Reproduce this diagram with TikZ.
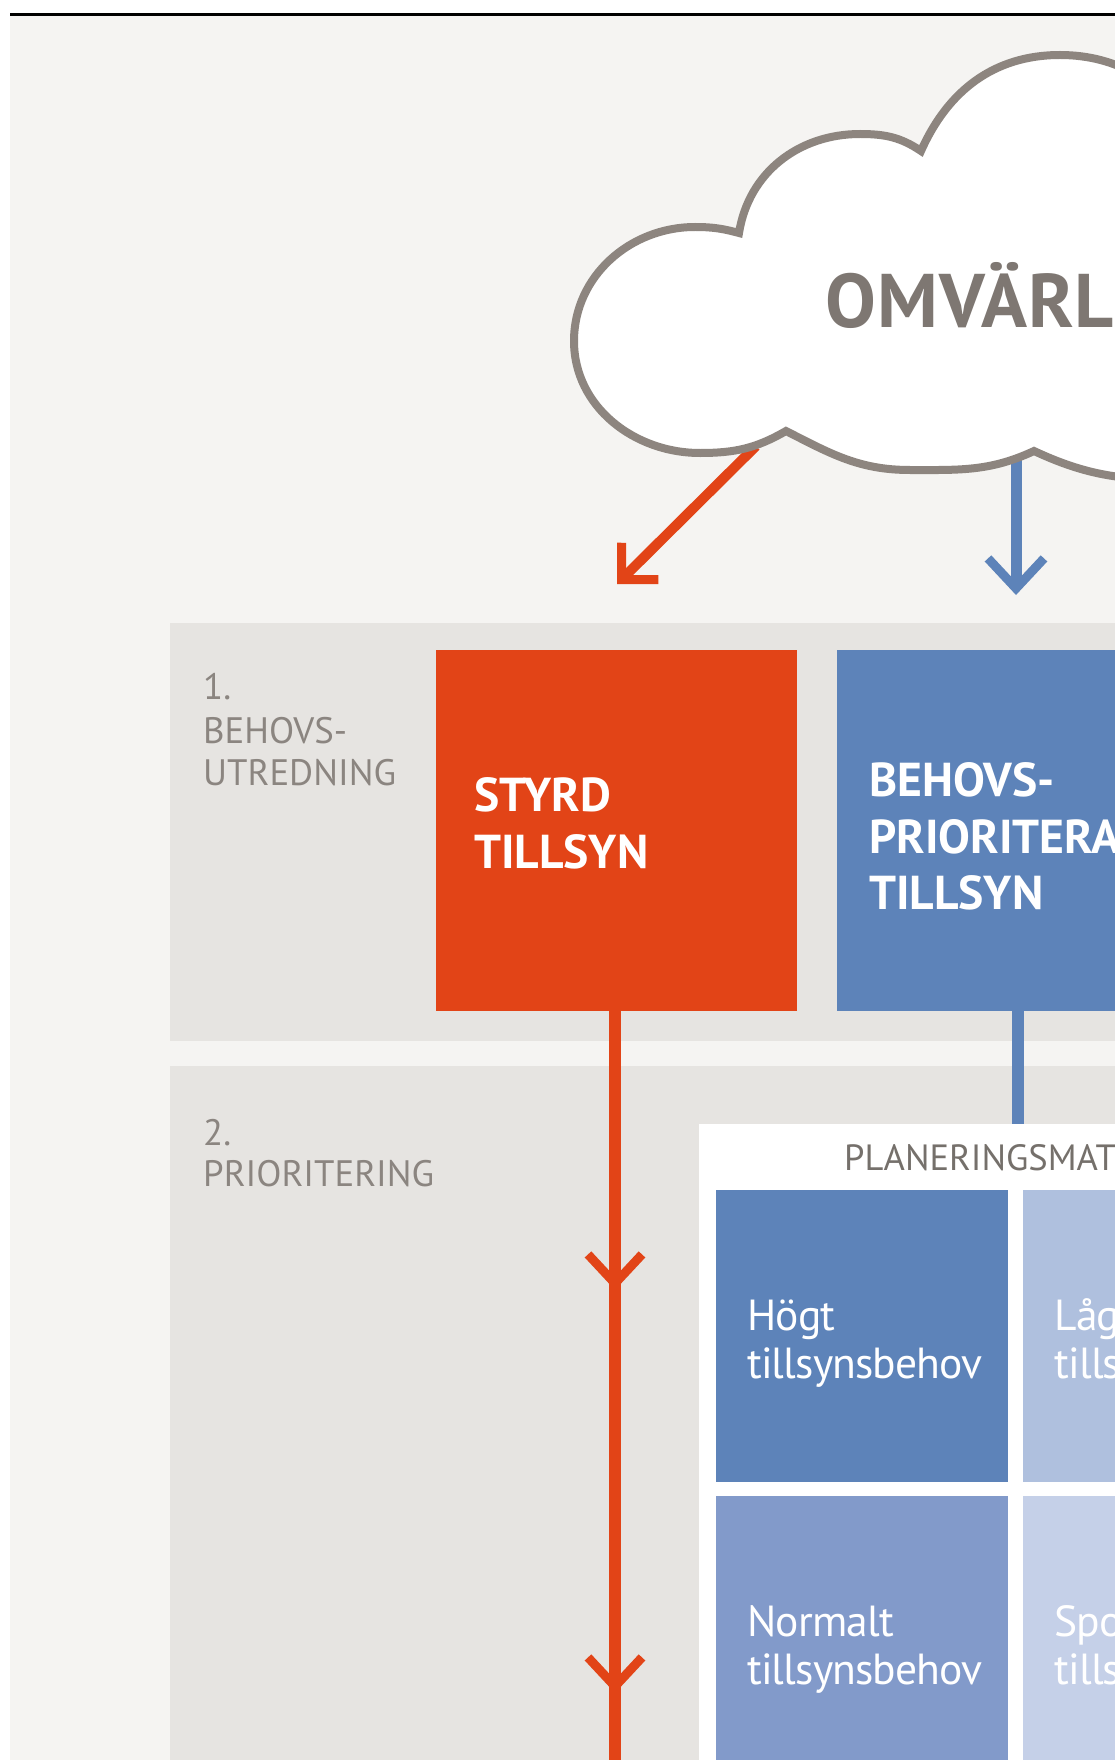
\documentclass[tikz,border=0pt]{standalone}
\usepackage{fontspec}
\setmainfont{PT Sans}
\newfontfamily\cellfont[LetterSpace=-2]{PT Sans}
\newfontfamily\omvfont[LetterSpace=1.5]{PT Sans}
\usetikzlibrary{arrows.meta,calc}
\definecolor{bgc}{HTML}{F5F4F2}
\definecolor{panelc}{HTML}{E6E4E1}
\definecolor{redc}{HTML}{E24417}
\definecolor{bluec}{HTML}{5D83B9}
\definecolor{lagc}{HTML}{AFC0DE}
\definecolor{normc}{HTML}{829ACA}
\definecolor{spoc}{HTML}{C5D0E8}
\definecolor{cloudedge}{HTML}{8D857F}
\definecolor{cloudtext}{HTML}{7E7772}
\definecolor{labelgray}{HTML}{8B8580}
\definecolor{plangray}{HTML}{75706B}
\begin{document}
\begin{tikzpicture}[x=1pt,y=1pt,
  panel/.style={fill=panelc, anchor=north west, inner sep=0pt, outer sep=0pt, minimum width=960pt, minimum height=#1},
  bigbox/.style={anchor=north west, inner sep=0pt, outer sep=0pt, minimum width=361pt, minimum height=361pt},
  cell/.style={anchor=north west, inner sep=0pt, outer sep=0pt, minimum width=291.7pt, minimum height=291.7pt},
  lbl/.style={anchor=base west, inner sep=0pt, text=labelgray, font=\fontsize{36.8}{42}\selectfont},
  boxtxt/.style={anchor=base west, inner sep=0pt, text=white, font=\bfseries\fontsize{47.6}{56}\selectfont},
  celltxt/.style={anchor=base west, inner sep=0pt, text=white, font=\cellfont\fontsize{43.5}{48}\selectfont},
  redv/.style={draw=redc, line width=12pt},
  bluev/.style={draw=bluec, line width=12pt},
  redtip/.style={-{Straight Barb[length=26pt,width=52pt,line width=9pt,sharp]}},
  bluetip/.style={-{Straight Barb[length=30pt,width=56pt,line width=9pt,sharp]}},
  midtip/.style={-{Straight Barb[length=29pt,width=54pt,line width=9pt,sharp]}},
  cloudstyle/.style={fill=white, draw=cloudedge, line width=8pt, line join=miter}
]
\useasboundingbox (0,-1760) rectangle (1115,0);
\fill[white] (0,-1760) rectangle (1115,0);
\clip (0,-1760) rectangle (1115,0);
\fill[bgc] (10,-1770) rectangle (1125,-14.5);
\draw[line width=3pt] (10,-14.5) -- (1125,-14.5);

% panels
\node[panel=418pt] (p1) at (170,-623) {};
\node[panel=720pt] (p2) at (170,-1066) {};

\node[lbl] (l1a) at (203,-699) {1.};
\node[lbl] (l1b) at (203,-743) {BEHOVS-};
\node[lbl] (l1c) at (203,-785) {UTREDNING};
\node[lbl] (l2a) at (203,-1145) {2.};
\node[lbl] (l2b) at (203,-1186) {PRIORITERING};

% boxes
\node[bigbox, fill=redc] (styrd) at (436,-650) {};
\node[bigbox, fill=bluec] (behov) at (837,-650) {};
\node[boxtxt] (st1) at ([shift={(38,-161.7)}]styrd.north west) {STYRD};
\node[boxtxt] (st2) at ([shift={(38,-218.3)}]styrd.north west) {TILLSYN};
\node[boxtxt] (bt1) at ([shift={(32,-146.7)}]behov.north west) {BEHOVS-};
\node[boxtxt] (bt2) at ([shift={(32,-203)}]behov.north west) {PRIORITERAD};
\node[boxtxt] (bt3) at ([shift={(32,-259)}]behov.north west) {TILLSYN};

% planning matrix
\node[anchor=north west, fill=white, inner sep=0pt, outer sep=0pt, minimum width=500pt, minimum height=700pt] (planbox) at (699,-1124) {};
\node[anchor=base west, inner sep=0pt, text=plangray, font=\fontsize{36.5}{42}\selectfont] (plantitle) at (844,-1170) {PLANERINGSMATRIS};

\node[cell, fill=bluec] (c11) at (716,-1190) {};
\node[cell, fill=lagc] (c12) at (1023.3,-1190) {};
\node[cell, fill=normc] (c21) at (716,-1496) {};
\node[cell, fill=spoc] (c22) at (1023.3,-1496) {};

\node[celltxt] (t11a) at ([shift={(31,-140)}]c11.north west) {Högt};
\node[celltxt] (t11b) at ([shift={(31,-188.3)}]c11.north west) {tillsynsbehov};
\node[celltxt] (t12a) at ([shift={(31,-140)}]c12.north west) {Lågt};
\node[celltxt] (t12b) at ([shift={(31,-188.3)}]c12.north west) {tillsynsbehov};
\node[celltxt] (t21a) at ([shift={(31,-140)}]c21.north west) {Normalt};
\node[celltxt] (t21b) at ([shift={(31,-188.3)}]c21.north west) {tillsynsbehov};
\node[celltxt] (t22a) at ([shift={(31,-140)}]c22.north west) {Sporadiskt};
\node[celltxt] (t22b) at ([shift={(31,-188.3)}]c22.north west) {tillsynsbehov};

% connectors
\coordinate (rtop) at ($(styrd.south)+(-1.5,0)$);
\coordinate (rv1) at ($(rtop)+(0,-279)$);
\coordinate (rv2) at ($(rtop)+(0,-682)$);
\coordinate (rvend) at ($(rtop)+(0,-780)$);
\draw[redv] (rtop) -- (rvend);
\draw[redv, midtip] (rtop) -- (rv1);
\draw[redv, midtip] (rv1) -- (rv2);
\draw[bluev] (behov.south) -- (behov.south |- planbox.north);

% arrows from the cloud
\coordinate (ca) at (756,-446);
\coordinate (ta) at (617,-584);
\coordinate (cb) at (1016,-440);
\coordinate (tb) at (1016,-595);
\draw[draw=redc, line width=10pt, redtip] (ca) -- (ta);
\draw[draw=bluec, line width=11pt, bluetip] (cb) -- (tb);

% cloud
\draw[cloudstyle] (786,-431)
  to[out=-150,in=0] (700,-453)
  to[out=180,in=-90] (574,-341)
  to[out=90,in=180] (695,-227)
  to[out=0,in=165] (739,-233)
  to[out=81,in=180] (860,-134)
  to[out=0,in=146] (921,-151)
  to[out=66,in=180] (1060,-55)
  to[out=0,in=100] (1180,-140)
  -- (1180,-480)
  to[out=180,in=-25] (1034,-451)
  to[out=-155,in=0] (910,-470)
  to[out=180,in=-27] (786,-431) -- cycle;
\node[anchor=base west, inner sep=0pt, text=cloudtext, font=\omvfont\bfseries\fontsize{76}{86}\selectfont] (omv) at (825,-327) {OMVÄRLD};
\end{tikzpicture}
\end{document}
